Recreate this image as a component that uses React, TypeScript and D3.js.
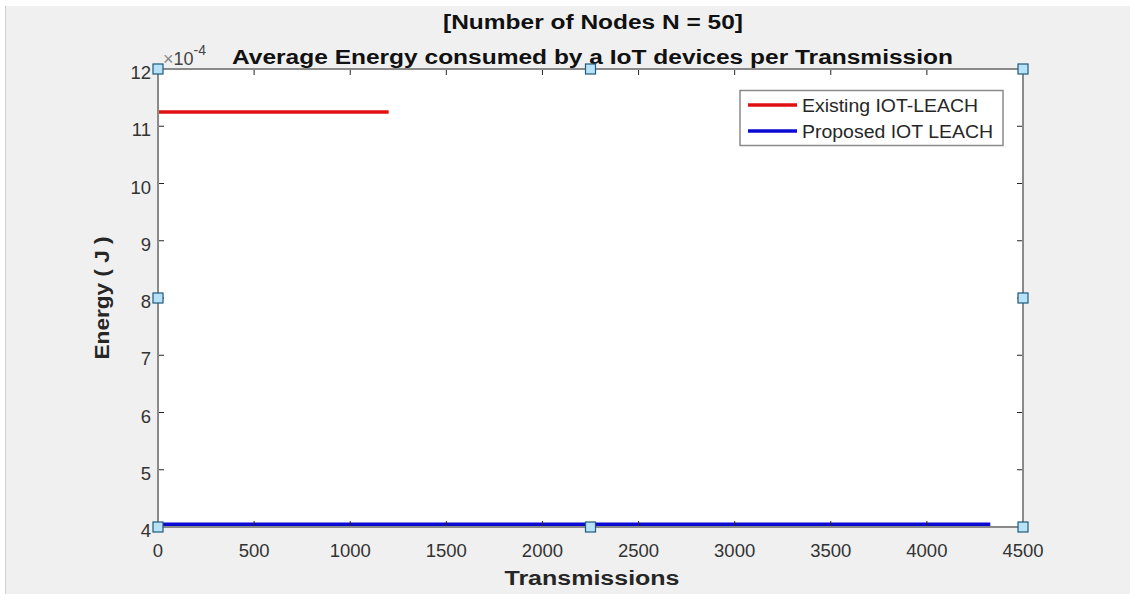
import React from "react";
import * as d3 from "d3";

const W = 1130;
const H = 594;

const xTicks = [0, 500, 1000, 1500, 2000, 2500, 3000, 3500, 4000, 4500];
const yTicks = [4, 5, 6, 7, 8, 9, 10, 11, 12];

const seriesNames = ["Existing IOT-LEACH", "Proposed IOT LEACH"];
const seriesColors = ["#e01010", "#0a0ad2"];
// each series: [x, y(×1e-4)] points
const existingLeach: [number, number][] = [[0, 11.25], [1200, 11.25]];
const proposedLeach: [number, number][] = [[0, 4.05], [4330, 4.05]];

const titleLines = ["[Number of Nodes N = 50]", "Average Energy consumed by a IoT devices per Transmission"];
const xLabel = "Transmissions";
const yLabel = "Energy ( J )";

export default function App() {
  const m = { l: 158, r: 1023, t: 69, b: 527 };
  const x = d3.scaleLinear().domain([0, 4500]).range([m.l, m.r]);
  const y = d3.scaleLinear().domain([4, 12]).range([m.b, m.t]);
  const line = d3.line<[number, number]>().x((d) => x(d[0])).y((d) => y(d[1]));
  const font = "'Liberation Sans', Arial, sans-serif";
  const series = [existingLeach, proposedLeach];
  const cx = (m.l + m.r) / 2;
  const handles: [number, number][] = [
    [m.l, m.t], [cx, m.t], [m.r, m.t],
    [m.l, (m.t + m.b) / 2], [m.r, (m.t + m.b) / 2],
    [m.l, m.b], [cx, m.b], [m.r, m.b],
  ];
  const tl = 6;
  const legendLens = [176, 191];
  return (
    <svg width={W} height={H} style={{ position: "absolute", left: 0, top: 0 }} fontFamily={font}>
      <rect x={0} y={0} width={W} height={H} fill="#ffffff" />
      <rect x={5} y={6} width={W - 5} height={H - 6} fill="#f0f0f0" />
      <line x1={5.5} y1={6} x2={5.5} y2={H} stroke="#cfcfcf" strokeWidth={1} />
      <rect x={m.l} y={m.t} width={m.r - m.l} height={m.b - m.t} fill="#ffffff" />
      {/* series */}
      {series.map((s, i) => (
        <path key={i} d={line(s) || ""} fill="none" stroke={seriesColors[i]} strokeWidth={3.5} />
      ))}
      {/* ticks */}
      {xTicks.map((t) => (
        <g key={"xt" + t}>
          <line x1={x(t)} x2={x(t)} y1={m.b} y2={m.b - tl} stroke="#262626" strokeWidth={1} />
          <line x1={x(t)} x2={x(t)} y1={m.t} y2={m.t + tl} stroke="#262626" strokeWidth={1} />
          <text x={x(t)} y={557} textAnchor="middle" fontSize={18.5} fill="#333">{t}</text>
        </g>
      ))}
      {yTicks.map((t) => (
        <g key={"yt" + t}>
          <line x1={m.l} x2={m.l + tl} y1={y(t)} y2={y(t)} stroke="#262626" strokeWidth={1} />
          <line x1={m.r} x2={m.r - tl} y1={y(t)} y2={y(t)} stroke="#262626" strokeWidth={1} />
          <text x={151} y={y(t) + 10} textAnchor="end" fontSize={18.5} fill="#333">{t}</text>
        </g>
      ))}
      {/* axes box */}
      <rect x={m.l} y={m.t} width={m.r - m.l} height={m.b - m.t} fill="none" stroke="#8a8a8a" strokeWidth={2} />
      {/* exponent */}
      <text x={163} y={65} fontSize={18} fill="#444">
        <tspan fill="#888">×</tspan>10<tspan dy={-10} fontSize={14}>-4</tspan>
      </text>
      {/* titles */}
      <text x={593} y={29} textAnchor="middle" fontSize={19.5} fontWeight="bold" fill="#111"
        textLength={300} lengthAdjust="spacingAndGlyphs">{titleLines[0]}</text>
      <text x={592.5} y={64} textAnchor="middle" fontSize={19.5} fontWeight="bold" fill="#111"
        textLength={721} lengthAdjust="spacingAndGlyphs">{titleLines[1]}</text>
      <text x={592} y={585} textAnchor="middle" fontSize={20} fontWeight="bold" fill="#262626"
        textLength={175} lengthAdjust="spacingAndGlyphs">{xLabel}</text>
      <text transform={`translate(109,298) rotate(-90)`} textAnchor="middle" fontSize={20} fontWeight="bold" fill="#262626"
        textLength={123} lengthAdjust="spacingAndGlyphs">{yLabel}</text>
      {/* legend */}
      <rect x={740} y={90.5} width={263} height={55} fill="#ffffff" stroke="#8a8a8a" strokeWidth={1.5} />
      {seriesNames.map((n, i) => (
        <g key={n}>
          <line x1={748} x2={797} y1={105 + i * 26} y2={105 + i * 26} stroke={seriesColors[i]} strokeWidth={3.5} />
          <text x={802} y={112 + i * 26} fontSize={18} fill="#262626"
            textLength={legendLens[i]} lengthAdjust="spacingAndGlyphs">{n}</text>
        </g>
      ))}
      {/* handles */}
      {handles.map((h, i) => (
        <rect key={i} x={h[0] - 5} y={h[1] - 5} width={10} height={10} fill="#b8e2f8" stroke="#1f5a7a" strokeWidth={1.2} />
      ))}
    </svg>
  );
}
